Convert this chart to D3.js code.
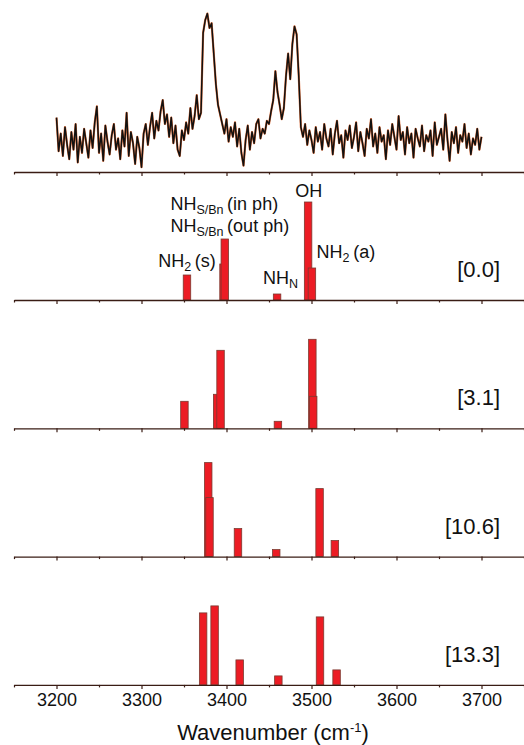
<!DOCTYPE html>
<html>
<head>
<meta charset="utf-8">
<script src="https://cdn.jsdelivr.net/npm/d3@7"></script>
<style>
body { margin: 0; background: #fff; }
text { font-family: "Liberation Sans", Arial, Helvetica, sans-serif; fill: #111; }
</style>
</head>
<body>
<div id="chart"></div>
<script>
var specStart = 3200, specStep = 2.5;
var spectrum = [
  0.34, 0.13, 0.24, 0.10, 0.28, 0.17, 0.08, 0.25, 0.14, 0.30,
  0.06, 0.22, 0.12, 0.27, 0.18, 0.09, 0.26, 0.15, 0.31, 0.41,
  0.12, 0.24, 0.07, 0.29, 0.19, 0.11, 0.23, 0.30, 0.14, 0.21,
  0.08, 0.26, 0.16, 0.37, 0.10, 0.25, 0.18, 0.05, 0.22, 0.15,
  0.03, 0.24, 0.30, 0.17, 0.28, 0.37, 0.21, 0.32, 0.26, 0.38,
  0.45, 0.30, 0.36, 0.22, 0.34, 0.18, 0.29, 0.14, 0.10, 0.26,
  0.20, 0.31, 0.24, 0.40, 0.27, 0.35, 0.48, 0.33, 0.37,
  0.87, 0.95, 0.99, 0.90, 0.93, 0.74, 0.55, 0.42, 0.36,
  0.30, 0.24, 0.33, 0.19, 0.28, 0.22, 0.31, 0.16, 0.27, 0.12,
  0.04, 0.20, 0.29, 0.14, 0.25, 0.18, 0.30, 0.33, 0.21, 0.27,
  0.24, 0.32,
  0.30, 0.38, 0.45, 0.63, 0.50, 0.42, 0.33, 0.40, 0.60, 0.74,
  0.58, 0.80, 0.91, 0.86, 0.60, 0.28,
  0.22, 0.30, 0.17, 0.26, 0.20, 0.12, 0.28, 0.19, 0.25, 0.14,
  0.30, 0.21, 0.16, 0.27, 0.11, 0.24, 0.32, 0.18, 0.23, 0.09,
  0.26, 0.20, 0.29, 0.15, 0.22, 0.31, 0.13, 0.25, 0.18, 0.10,
  0.27, 0.21, 0.33, 0.16, 0.24, 0.12, 0.28, 0.19, 0.23, 0.08,
  0.26, 0.17, 0.30, 0.22, 0.14, 0.35, 0.20, 0.25, 0.11, 0.28,
  0.18, 0.24, 0.09, 0.27, 0.21, 0.16, 0.29, 0.13, 0.23, 0.19,
  0.26, 0.10, 0.31, 0.17, 0.22, 0.27, 0.14, 0.36, 0.20, 0.07,
  0.25, 0.18, 0.28, 0.12, 0.23, 0.19, 0.30, 0.15, 0.24, 0.11,
  0.21, 0.17, 0.27, 0.14, 0.22
];

// computed lines: wavenumber / relative intensity, one list per conformer
var freq0 = [3353.5, 3396.5, 3398, 3459.5, 3496, 3500.5];
var inten0 = [25, 36, 61, 6, 98, 32];
var freq1 = [3350.5, 3389, 3393, 3460.5, 3501, 3502];
var inten1 = [27, 34, 78, 7, 89, 32];
var freq2 = [3378.5, 3380, 3413.5, 3458.5, 3509.5, 3527.5];
var inten2 = [94, 59, 28, 7, 68, 16];
var freq3 = [3372.5, 3386, 3415.5, 3461, 3510, 3529.5];
var inten3 = [72, 79, 25, 9, 68, 15];

var energies = ["[0.0]", "[3.1]", "[10.6]", "[13.3]"];
var tickLabels = [3200, 3300, 3400, 3500, 3600, 3700];
var minorTicks = [3150, 3250, 3350, 3450, 3550, 3650, 3750];

var width = 524, height = 745;
var axisCol = "#3a1c14";

var svg = d3.select("#chart").append("svg")
    .attr("width", width)
    .attr("height", height);

var x = d3.scaleLinear().domain([3150, 3750]).range([14, 524]);

function drawAxis(y0, labels) {
    var g = svg.append("g").attr("transform", "translate(0," + y0 + ")");
    var minor = g.append("g")
        .call(d3.axisBottom(x).tickValues(minorTicks).tickSize(2.5).tickSizeOuter(0).tickFormat(""));
    var major = g.append("g")
        .call(d3.axisBottom(x).tickValues(tickLabels).tickSize(4).tickSizeOuter(0)
            .tickPadding(4).tickFormat(labels ? d3.format("d") : ""));
    g.selectAll("path.domain").attr("stroke", axisCol).attr("stroke-width", 1.3);
    g.selectAll(".tick line").attr("stroke", axisCol).attr("stroke-width", 1.2);
    major.selectAll("text")
        .style("font-family", "'Liberation Sans', Arial, sans-serif")
        .style("font-size", "18px")
        .attr("fill", "#111");
    minor.select("path.domain").remove();
}

// top: experimental spectrum
var ySpec = d3.scaleLinear().domain([0, 1]).range([172, 12]);
var line = d3.line()
    .x(function(d, i) { return x(specStart + i * specStep); })
    .y(function(d) { return ySpec(d); });

svg.append("path")
    .datum(spectrum)
    .attr("d", line)
    .attr("fill", "none")
    .attr("stroke", "#e0703c")
    .attr("stroke-width", 2.2)
    .attr("stroke-linejoin", "round");
svg.append("path")
    .datum(spectrum)
    .attr("d", line)
    .attr("fill", "none")
    .attr("stroke", "#111")
    .attr("stroke-width", 1.5)
    .attr("stroke-linejoin", "round");
drawAxis(172, false);

// stick spectra
var freqs = [freq0, freq1, freq2, freq3];
var intens = [inten0, inten1, inten2, inten3];
var base0 = 300, gap = 128.3;
var barW = 8.8;
var bw = x(3150 + barW) - x(3150);

freqs.forEach(function(fr, p) {
    var base = base0 + p * gap;
    var y = d3.scaleLinear().domain([0, 100]).range([base, base - 100]);
    var data = fr.map(function(f, i) { return { f: f, v: intens[p][i] }; });

    svg.append("g").selectAll("rect")
        .data(data)
        .enter()
        .append("rect")
        .attr("x", function(d) { return x(d.f) - bw / 2; })
        .attr("width", bw)
        .attr("y", function(d) { return y(d.v); })
        .attr("height", function(d) { return base - y(d.v); })
        .attr("fill", "#ec1c24")
        .attr("stroke", "#7b3a30")
        .attr("stroke-width", 0.8);

    drawAxis(base, p == 3);

    svg.append("text")
        .attr("x", 500)
        .attr("y", base - 23)
        .attr("text-anchor", "end")
        .style("font-size", "22px")
        .text(energies[p]);
});

// peak assignments on the [0.0] panel
function label(xp, yp, parts, anchor) {
    var t = svg.append("text")
        .attr("x", xp)
        .attr("y", yp)
        .attr("text-anchor", anchor || "start")
        .style("font-size", "18px");
    parts.forEach(function(p) {
        if (p[1]) {
            t.append("tspan").attr("dy", 4).style("font-size", "12.5px").text(p[0]);
            t.append("tspan").attr("dy", -4).text("\u2009");
        } else {
            t.append("tspan").text(p[0]);
        }
    });
}
label(x(freq0[0]), base0 - 33, [["NH"], ["2", 1], ["(s)"]], "middle");
label(x(3334), 210, [["NH"], ["S/Bn", 1], ["(in ph)"]]);
label(x(3334), 232, [["NH"], ["S/Bn", 1], ["(out ph)"]]);
label(x(3443), base0 - 16, [["NH"], ["N", 1]]);
label(x(3481), 197, [["OH"]]);
label(x(3506), 258, [["NH"], ["2", 1], ["(a)"]]);

// x title
var title = svg.append("text")
    .attr("x", 273)
    .attr("y", 740)
    .attr("text-anchor", "middle")
    .style("font-size", "22px");
title.append("tspan").text("Wavenumber (cm");
title.append("tspan").attr("dy", -8).style("font-size", "13px").text("-1");
title.append("tspan").attr("dy", 8).text(")");
</script>
</body>
</html>
